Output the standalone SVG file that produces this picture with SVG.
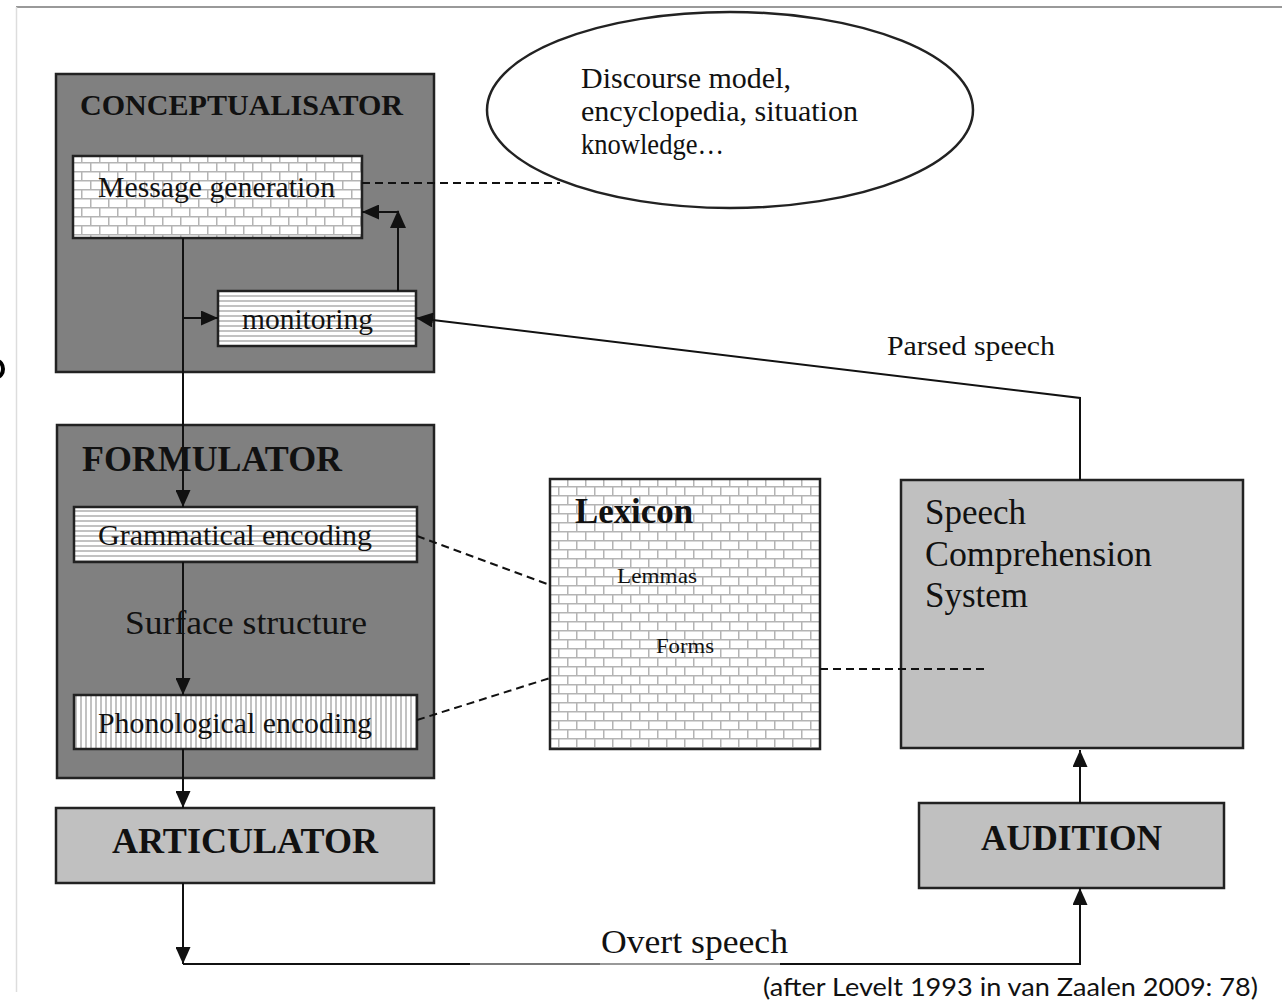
<svg xmlns="http://www.w3.org/2000/svg" width="1282" height="1002" viewBox="0 0 1282 1002">
<defs>
<style>
.box{stroke:#222;stroke-width:2.5}
.dark{fill:#808080}
.light{fill:#c0c0c0}
.t{font-family:"Liberation Serif","Times New Roman",serif;fill:#111}
.b{font-weight:bold}
.con{fill:none;stroke:#111;stroke-width:2}
.dash{fill:none;stroke:#111;stroke-width:2;stroke-dasharray:8 5}
</style>
<pattern id="brick" width="18" height="18" patternUnits="userSpaceOnUse">
<rect width="18" height="18" fill="#fff"/>
<path d="M0,0.75H18M0,9.75H18M0.75,0V9M9.75,9V18" stroke="#b4b4b4" stroke-width="1.5" fill="none"/>
</pattern>
<pattern id="hstripe" width="5" height="5" patternUnits="userSpaceOnUse">
<rect width="5" height="5" fill="#fff"/>
<rect y="0" width="5" height="2" fill="#c2c2c2"/>
</pattern>
<pattern id="vstripe" width="5" height="5" patternUnits="userSpaceOnUse">
<rect width="5" height="5" fill="#fff"/>
<rect x="0" width="2" height="5" fill="#c2c2c2"/>
</pattern>
<marker id="arr" markerUnits="userSpaceOnUse" markerWidth="17" markerHeight="15" refX="17" refY="7.5" orient="auto">
<path d="M0,0L17,7.5L0,15z" fill="#111"/>
</marker>
</defs>
<rect width="1282" height="1002" fill="#fff"/>
<g id="frame">
<line x1="16" y1="7" x2="1282" y2="7" stroke="#999" stroke-width="2"/>
<line x1="16.5" y1="7" x2="16.5" y2="992" stroke="#ddd" stroke-width="1.5"/>
<ellipse cx="-3" cy="369" rx="6" ry="8" fill="none" stroke="#000" stroke-width="4"/>
</g>
<g id="conceptualisator">
<rect class="box dark" x="56" y="74" width="378" height="298"/>
<text class="t b" x="80" y="115" font-size="29.5" textLength="323" lengthAdjust="spacingAndGlyphs">CONCEPTUALISATOR</text>
</g>
<g id="message-generation">
<rect class="box" fill="url(#brick)" x="73" y="156" width="289" height="82"/>
<text class="t" x="98" y="197" font-size="29" textLength="237" lengthAdjust="spacingAndGlyphs">Message generation</text>
</g>
<g id="monitoring">
<rect class="box" fill="url(#hstripe)" x="218" y="291" width="198" height="55"/>
<text class="t" x="242" y="329" font-size="29" textLength="131" lengthAdjust="spacingAndGlyphs">monitoring</text>
</g>
<g id="discourse-model">
<ellipse cx="730" cy="110" rx="243" ry="98" fill="#fff" stroke="#222" stroke-width="2.5"/>
<text class="t" font-size="29">
<tspan x="581" y="88" textLength="210" lengthAdjust="spacingAndGlyphs">Discourse model,</tspan>
<tspan x="581" y="121" textLength="277" lengthAdjust="spacingAndGlyphs">encyclopedia, situation</tspan>
<tspan x="581" y="154" textLength="143" lengthAdjust="spacingAndGlyphs">knowledge…</tspan>
</text>
</g>
<g id="formulator">
<rect class="box dark" x="57" y="425" width="377" height="353"/>
<text class="t b" x="82" y="471" font-size="35" textLength="260" lengthAdjust="spacingAndGlyphs">FORMULATOR</text>
<text class="t" x="125" y="634" font-size="34" textLength="242" lengthAdjust="spacingAndGlyphs">Surface structure</text>
</g>
<g id="grammatical-encoding">
<rect class="box" fill="url(#hstripe)" x="74" y="507" width="343" height="55"/>
<text class="t" x="98" y="545" font-size="29" textLength="274" lengthAdjust="spacingAndGlyphs">Grammatical encoding</text>
</g>
<g id="phonological-encoding">
<rect class="box" fill="url(#vstripe)" x="74" y="695" width="343" height="54"/>
<text class="t" x="98" y="733" font-size="29" textLength="274" lengthAdjust="spacingAndGlyphs">Phonological encoding</text>
</g>
<g id="articulator">
<rect class="box light" x="56" y="808" width="378" height="75"/>
<text class="t b" x="112" y="853" font-size="35" textLength="266" lengthAdjust="spacingAndGlyphs">ARTICULATOR</text>
</g>
<g id="lexicon">
<rect class="box" fill="url(#brick)" x="550" y="479" width="270" height="270"/>
<text class="t b" x="575" y="523" font-size="35" textLength="118" lengthAdjust="spacingAndGlyphs">Lexicon</text>
<text class="t" x="617" y="583" font-size="22" textLength="80" lengthAdjust="spacingAndGlyphs">Lemmas</text>
<text class="t" x="656" y="653" font-size="22" textLength="58" lengthAdjust="spacingAndGlyphs">Forms</text>
</g>
<g id="speech-comprehension-system">
<rect class="box light" x="901" y="480" width="342" height="268"/>
<text class="t" font-size="35">
<tspan x="925" y="524">Speech</tspan>
<tspan x="925" y="566" textLength="227" lengthAdjust="spacingAndGlyphs">Comprehension</tspan>
<tspan x="925" y="607">System</tspan>
</text>
</g>
<g id="audition">
<rect class="box light" x="919" y="803" width="305" height="85"/>
<text class="t b" x="981" y="850" font-size="35" textLength="181" lengthAdjust="spacingAndGlyphs">AUDITION</text>
</g>
<g id="connectors">
<path class="con" d="M183,238V507" marker-end="url(#arr)"/>
<path class="con" d="M183,318H218" marker-end="url(#arr)"/>
<path class="con" d="M398,291V212H362" marker-end="url(#arr)"/>
<path d="M398,210L406,228L390,228z" fill="#111"/>
<path class="con" d="M1080,480V398L416,318" marker-end="url(#arr)"/>
<path class="con" d="M183,562V695" marker-end="url(#arr)"/>
<path class="con" d="M183,749V808" marker-end="url(#arr)"/>
<path class="con" d="M183,883V964" marker-end="url(#arr)"/>
<path class="con" d="M183,964H1080V888" marker-end="url(#arr)"/>
<line x1="470" y1="964" x2="600" y2="964" stroke="#777" stroke-width="2.2"/>
<line x1="600" y1="964" x2="780" y2="964" stroke="#999" stroke-width="2.2"/>
<path class="con" d="M1080,803V750" marker-end="url(#arr)"/>
<path class="dash" d="M362,183H560"/>
<path class="dash" d="M417,536L550,585"/>
<path class="dash" d="M417,720L550,678"/>
<path class="dash" d="M820,669H988"/>
</g>
<g id="labels">
<text class="t" x="887" y="355" font-size="28" textLength="168" lengthAdjust="spacingAndGlyphs">Parsed speech</text>
<text class="t" x="601" y="953" font-size="34" textLength="187" lengthAdjust="spacingAndGlyphs">Overt speech</text>
<text x="763" y="996" font-family="Lato, 'Open Sans', sans-serif" font-size="25" fill="#111" textLength="495" lengthAdjust="spacingAndGlyphs">(after Levelt 1993 in van Zaalen 2009: 78)</text>
</g>
</svg>
